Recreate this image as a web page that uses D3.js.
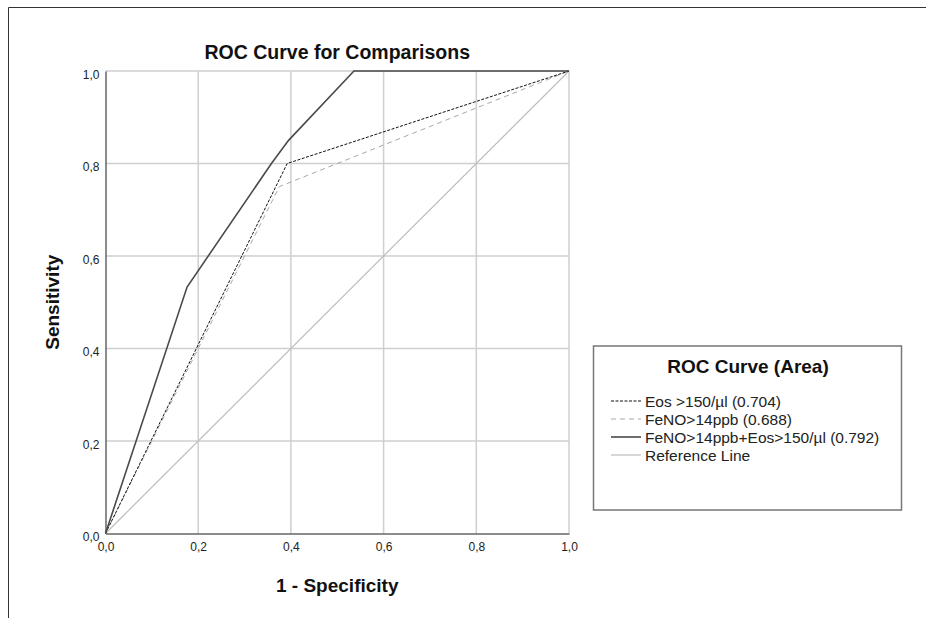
<!DOCTYPE html>
<html>
<head>
<meta charset="utf-8">
<script src="https://cdn.jsdelivr.net/npm/d3@7/dist/d3.min.js"></script>
<style>
  body { margin: 0; background: #fff; }
  svg { font-family: "Liberation Sans", Arial, sans-serif; }
</style>
</head>
<body>
<div id="chart"></div>
<script>
// ROC points
const fprEos = [0, 0.392, 1];
const tprEos = [0, 0.8, 1];
const fprFeno = [0, 0.375, 1];
const tprFeno = [0, 0.75, 1];
const fprComb = [0, 0.176, 0.358, 0.395, 0.536, 1];
const tprComb = [0, 0.533, 0.8, 0.85, 1, 1];
const fprRef = [0, 1];
const tprRef = [0, 1];

const tickValues = [0, 0.2, 0.4, 0.6, 0.8, 1];
const tickLabels = ["0,0", "0,2", "0,4", "0,6", "0,8", "1,0"];
const legendLabels = ["Eos >150/µl (0.704)", "FeNO>14ppb (0.688)", "FeNO>14ppb+Eos>150/µl (0.792)", "Reference Line"];

const width = 926, height = 618;
const plot = { left: 105.5, right: 569, top: 71, bottom: 533.5 };

//series styles, same order as legend
const styles = [
    { color: "#111", width: 1, dash: "3,1.5" },
    { color: "#a8a8a8", width: 1, dash: "5,4" },
    { color: "#4a4a4a", width: 1.6, dash: null },
    { color: "#bdbdbd", width: 1.2, dash: null }
];

const svg = d3.select("#chart").append("svg")
    .attr("width", width)
    .attr("height", height);

//outer frame (top and left edges visible)
svg.append("path")
    .attr("d", `M8.5,${height} V7.5 H${width}`)
    .attr("fill", "none")
    .attr("stroke", "#333")
    .attr("stroke-width", 1);

const x = d3.scaleLinear().domain([0, 1]).range([plot.left, plot.right]);
const y = d3.scaleLinear().domain([0, 1]).range([plot.bottom, plot.top]);

//grid lines
svg.append("g")
    .selectAll("line")
    .data(tickValues.slice(1))
    .enter().append("line")
    .attr("x1", d => x(d)).attr("x2", d => x(d))
    .attr("y1", plot.top).attr("y2", plot.bottom)
    .attr("stroke", "#cfcfcf").attr("stroke-width", 1.5);

svg.append("g")
    .selectAll("line")
    .data(tickValues.slice(1))
    .enter().append("line")
    .attr("y1", d => y(d)).attr("y2", d => y(d))
    .attr("x1", plot.left).attr("x2", plot.right)
    .attr("stroke", "#cfcfcf").attr("stroke-width", 1.5);

//axes
const xAxis = d3.axisBottom(x).tickValues(tickValues)
    .tickFormat((d, i) => tickLabels[i]).tickSize(0).tickPadding(9);
const yAxis = d3.axisLeft(y).tickValues(tickValues)
    .tickFormat((d, i) => tickLabels[i]).tickSize(0).tickPadding(6);

const gx = svg.append("g")
    .attr("transform", `translate(0,${plot.bottom})`)
    .call(xAxis);
const gy = svg.append("g")
    .attr("transform", `translate(${plot.left},0)`)
    .call(yAxis);

[gx, gy].forEach(g => {
    g.select(".domain").attr("stroke", "#666").attr("stroke-width", 1.5);
    g.selectAll("text").attr("font-size", 12).attr("fill", "#222")
        .attr("font-family", "Liberation Sans, Arial, sans-serif");
});
gy.selectAll("text").attr("dy", "0.62em");

//curves
const line = d3.line().x(d => x(d[0])).y(d => y(d[1]));
const series = [
    d3.zip(fprEos, tprEos),
    d3.zip(fprFeno, tprFeno),
    d3.zip(fprComb, tprComb),
    d3.zip(fprRef, tprRef)
];
const drawOrder = [3, 1, 0, 2];

svg.append("g")
    .selectAll("path")
    .data(drawOrder)
    .enter().append("path")
    .attr("d", i => line(series[i]))
    .attr("fill", "none")
    .attr("stroke", i => styles[i].color)
    .attr("stroke-width", i => styles[i].width)
    .attr("stroke-dasharray", i => styles[i].dash);

//titles
svg.append("text")
    .attr("x", (plot.left + plot.right) / 2)
    .attr("y", 59)
    .attr("text-anchor", "middle")
    .attr("font-size", 19.5)
    .attr("font-weight", "bold")
    .attr("fill", "#111")
    .text("ROC Curve for Comparisons");

svg.append("text")
    .attr("x", (plot.left + plot.right) / 2)
    .attr("y", 592)
    .attr("text-anchor", "middle")
    .attr("font-size", 19)
    .attr("font-weight", "bold")
    .attr("fill", "#111")
    .text("1 - Specificity");

svg.append("text")
    .attr("transform", `translate(59,${(plot.top + plot.bottom) / 2}) rotate(-90)`)
    .attr("text-anchor", "middle")
    .attr("font-size", 19)
    .attr("font-weight", "bold")
    .attr("fill", "#111")
    .text("Sensitivity");

//legend
const legend = svg.append("g");
legend.append("rect")
    .attr("x", 593.5).attr("y", 346)
    .attr("width", 308).attr("height", 164)
    .attr("fill", "#fff")
    .attr("stroke", "#777")
    .attr("stroke-width", 1.5);

legend.append("text")
    .attr("x", 748)
    .attr("y", 373)
    .attr("text-anchor", "middle")
    .attr("font-size", 19)
    .attr("font-weight", "bold")
    .attr("fill", "#111")
    .text("ROC Curve (Area)");

const items = legend.selectAll(".item")
    .data(legendLabels)
    .enter().append("g")
    .attr("class", "item")
    .attr("transform", (d, i) => `translate(0,${402 + i * 18})`);

items.append("line")
    .attr("x1", 611).attr("x2", 641)
    .attr("y1", -1).attr("y2", -1)
    .attr("stroke", (d, i) => styles[i].color)
    .attr("stroke-width", (d, i) => styles[i].width)
    .attr("stroke-dasharray", (d, i) => styles[i].dash);

items.append("text")
    .attr("x", 645)
    .attr("y", 5)
    .attr("font-size", 15.5)
    .attr("fill", "#222")
    .text(d => d);
</script>
</body>
</html>
